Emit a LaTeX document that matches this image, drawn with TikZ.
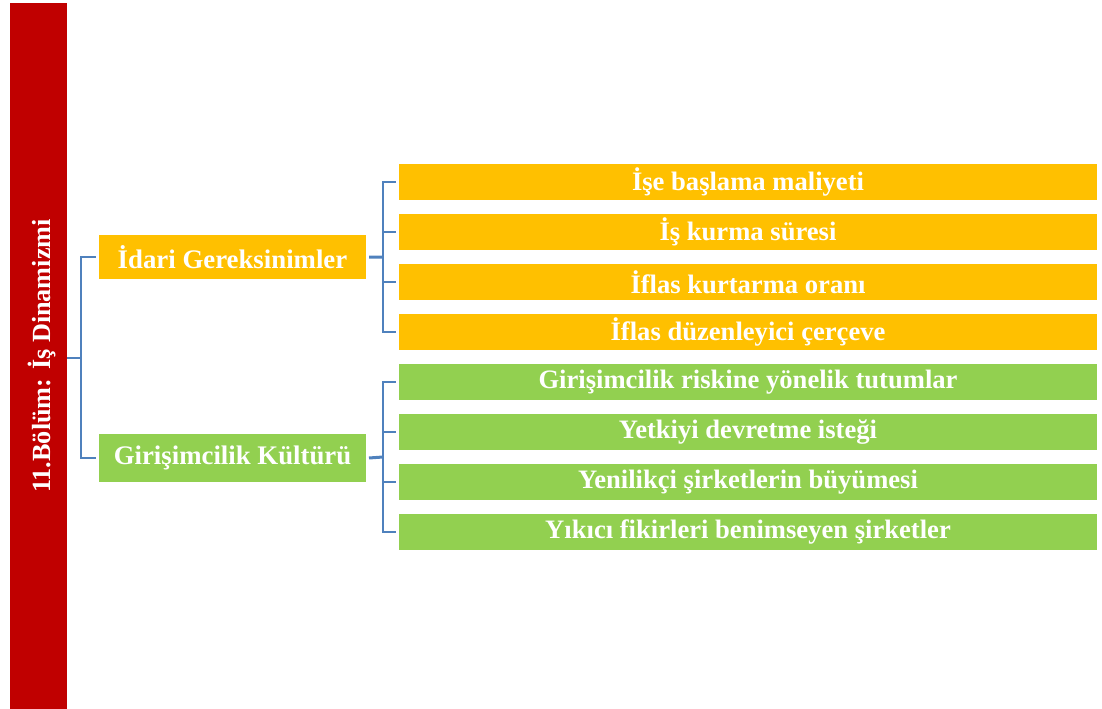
\documentclass[tikz,border=0pt]{standalone}
\usepackage{fontspec}
\setmainfont{Liberation Serif}
\definecolor{barred}{HTML}{C00000}
\definecolor{ylw}{HTML}{FFC000}
\definecolor{grn}{HTML}{92D050}
\definecolor{lnk}{HTML}{4F81BD}
\begin{document}
\begin{tikzpicture}[x=1bp,y=-1bp,
  box/.style={inner sep=0pt,outer sep=0pt,anchor=north west,text=white,font=\bfseries},
  midbox/.style={box,minimum width=267bp,minimum height=44bp,font=\bfseries\fontsize{26.9}{30}\selectfont},
  leafbox/.style={box,minimum width=698bp,minimum height=36bp,font=\bfseries\fontsize{26.7}{30}\selectfont},
  link/.style={draw=lnk,line width=2bp}]
\useasboundingbox (0,0) rectangle (1102,709);
\node[box,fill=barred,minimum width=57bp,minimum height=706bp] (root) at (10,3) {};
\node[text=white,font=\bfseries\fontsize{26.3}{30}\selectfont,rotate=90] (roottxt) at ([xshift=3bp]root.center) {11.Bölüm: İş Dinamizmi};
\node[midbox,fill=ylw] (m1) at (99,235) {İdari Gereksinimler};
\node[midbox,fill=grn,minimum height=48bp] (m2) at (99,434) {Girişimcilik Kültürü};
\node[leafbox,fill=ylw] (a1) at (399,164) {İşe başlama maliyeti};
\node[leafbox,fill=ylw] (a2) at (399,214) {İş kurma süresi};
\node[leafbox,fill=ylw] (a3) at (399,264) {İflas kurtarma oranı};
\node[leafbox,fill=ylw] (a4) at (399,314) {İflas düzenleyici çerçeve};
\node[leafbox,fill=grn] (b1) at (399,364) {Girişimcilik riskine yönelik tutumlar};
\node[leafbox,fill=grn] (b2) at (399,414) {Yetkiyi devretme isteği};
\node[leafbox,fill=grn] (b3) at (399,464) {Yenilikçi şirketlerin büyümesi};
\node[leafbox,fill=grn] (b4) at (399,514) {Yıkıcı fikirleri benimseyen şirketler};
% root connectors
\coordinate (rj) at (81,358);
\draw[link] (root.east |- rj) -- (rj);
\draw[link] (m1.west) ++(-3,0) -| (rj) |- ([xshift=-3bp]m2.west);
% level 2 connectors
\coordinate (j1) at (383,257);
\coordinate (j2) at (383,457);
\draw[link,line width=3bp] ([xshift=3bp]m1.east) -- (j1);
\draw[link,line width=3bp] ([xshift=3bp]m2.east) -- (j2);
\foreach \n in {a1,a2,a3,a4}{\draw[link] (j1) |- ([xshift=-3bp]\n.west);}
\foreach \n in {b1,b2,b3,b4}{\draw[link] (j2) |- ([xshift=-3bp]\n.west);}
\end{tikzpicture}
\end{document}
